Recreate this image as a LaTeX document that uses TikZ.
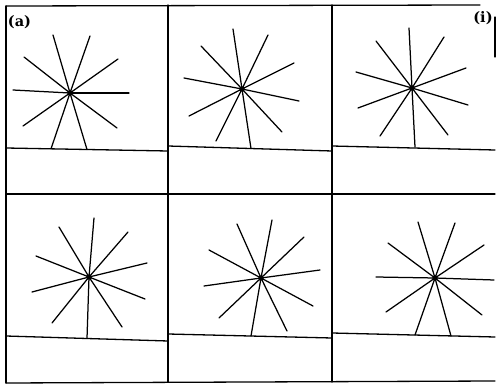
\documentclass[tikz,border=0pt]{standalone}
\usepackage{fontspec}
\newfontfamily\labfont{DejaVu Serif}
\begin{document}
\begin{tikzpicture}[x=1pt,y=-1pt,
  frameline/.style={line width=1.3pt, line cap=round},
  ray/.style={line width=1.25pt, line cap=round},
  hub/.style={circle, fill=black, inner sep=0pt, minimum size=5.5pt},
  lab/.style={font=\labfont\bfseries\fontsize{14.5}{15}\selectfont, inner sep=0pt}]
\useasboundingbox (0,0) rectangle (496,385);
\fill[white] (0,0) rectangle (496,385);
% frame
\draw[frameline] (6,6) -- (480,5);
\draw[frameline] (6,6) -- (6,383);
\draw[frameline] (6,383) -- (495,381);
\draw[frameline] (495,17) -- (495,57);
\draw[frameline] (168,5) -- (168,382);
\draw[frameline] (332,5) -- (332,382);
\draw[frameline] (6,194) -- (495,194);
% ground lines
\draw[frameline] (6,148) -- (168,151);
\draw[frameline] (168,146) -- (332,151);
\draw[frameline] (332,146) -- (495,150);
\draw[frameline] (6,336) -- (168,341);
\draw[frameline] (168,334) -- (332,338);
\draw[frameline] (332,333) -- (495,337);
% labels
\node[lab] (la) at (19.5,22.5) {(a)};
\node[lab] (li) at (483,18) {(i)};
% hubs
\node[hub] (c1) at (70,93) {};
\node[hub] (c2) at (242,89) {};
\node[hub] (c3) at (412,88) {};
\node[hub] (c4) at (89,277) {};
\node[hub] (c5) at (261,278) {};
\node[hub] (c6) at (435,278) {};
% rays
\foreach \p in {(53,35),(90,36),(24,57),(118,59),(13,90),(129,93),(23,126),(117,128),(51,148.8),(87,149.5)}
  {\draw[ray] (c1.center) -- \p;}
\foreach \p in {(233,29),(268,35),(201,46),(294,63),(184,78),(299,101),(189,116),(282,132),(216,141),(251,148.5)}
  {\draw[ray] (c2.center) -- \p;}
\foreach \p in {(409,28),(376,41),(444,37),(356,72),(466,68),(358,108),(468,105),(380,136),(448,135),(415,147)}
  {\draw[ray] (c3.center) -- \p;}
\foreach \p in {(94,218),(59,227),(128,232),(36,256),(147,263),(32,292),(145,299),(52,323),(122,327),(87,338.5)}
  {\draw[ray] (c4.center) -- \p;}
\foreach \p in {(272,220),(237,224),(304,237),(209,250),(320,270),(204,286),(313,306),(219,318),(287,331),(251,336)}
  {\draw[ray] (c5.center) -- \p;}
\foreach \p in {(418,222),(455,223),(388,243),(484,245),(376,277),(494,280),(386,312),(482,315),(415,335),(451,336)}
  {\draw[ray] (c6.center) -- \p;}
\end{tikzpicture}
\end{document}
